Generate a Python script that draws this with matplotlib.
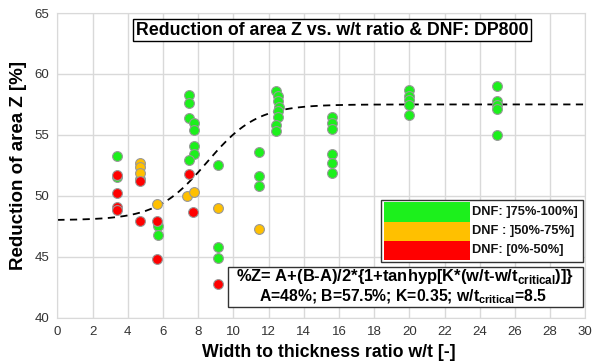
import numpy as np
import matplotlib
matplotlib.use("Agg")
import matplotlib.pyplot as plt
from matplotlib.patches import Rectangle

plt.rcParams['font.family'] = ['Liberation Sans', 'DejaVu Sans']
plt.rcParams['mathtext.fontset'] = 'custom'
plt.rcParams['mathtext.bf'] = 'Liberation Sans:bold'
plt.rcParams['mathtext.rm'] = 'Liberation Sans'

# ---- data ----
green_x = [3.4, 3.4, 5.7, 5.7, 7.48, 7.48, 7.48, 7.77, 7.77, 7.77, 7.77, 7.48, 9.15, 9.15, 9.15,
           11.46, 11.46, 11.46,
           12.4, 12.55, 12.55, 12.6, 12.55, 12.55, 12.45, 12.45,
           15.63, 15.63, 15.63, 15.63, 15.63, 15.63,
           19.98, 19.98, 19.98, 19.98, 19.98,
           24.98, 24.98, 24.98, 24.98, 24.98, 4.68]
green_y = [53.3, 51.55, 47.5, 46.8, 58.3, 57.6, 56.4, 56.0, 55.4, 54.1, 53.4, 52.9, 52.5, 45.8, 44.9,
           53.6, 51.6, 50.8,
           58.6, 58.2, 57.8, 57.3, 57.0, 56.45, 55.8, 55.35,
           56.45, 56.0, 55.5, 53.4, 52.7, 51.85,
           58.7, 58.2, 57.9, 57.45, 56.6,
           59.0, 57.8, 57.45, 57.1, 55.0, 51.4]
orange_x = [4.68, 4.68, 4.68, 5.68, 7.39, 7.77, 9.15, 11.46]
orange_y = [52.7, 52.4, 51.9, 49.3, 50.0, 50.3, 49.0, 47.3]
red_x = [3.4, 3.4, 3.4, 3.4, 4.68, 4.68, 5.68, 5.68, 7.48, 7.73, 9.15]
red_y = [51.7, 50.2, 49.1, 48.85, 51.2, 47.9, 47.95, 44.8, 51.8, 48.7, 42.8]

A, B, K, wt_crit = 48.0, 57.5, 0.35, 8.5

legend_labels = ["DNF: ]75%-100%]", "DNF : ]50%-75%]", "DNF: [0%-50%]"]
colors = ["#1CF01C", "#FFC000", "#FF0000"]

fig = plt.figure(figsize=(5.92, 3.62), dpi=100)
ax = fig.add_axes([0.0968, 0.1224, 0.8919, 0.8416])

ax.set_xlim(0, 30)
ax.set_ylim(40, 65)
ax.set_xticks(np.arange(0, 31, 2))
ax.set_yticks(np.arange(40, 66, 5))
ax.grid(True, color="#D9D9D9", linewidth=1)
ax.set_axisbelow(True)
for s in ax.spines.values():
    s.set_color("#D9D9D9")
ax.tick_params(length=0, labelsize=9.5, labelcolor="#333333", pad=6)

xc = np.linspace(0, 30, 300)
zc = A + (B - A) / 2 * (1 + np.tanh(K * (xc - wt_crit)))
ax.plot(xc, zc, linestyle=(0, (4, 3)), color="black", linewidth=1.3, zorder=2)

mk = dict(marker="o", s=50, edgecolors="#999999", linewidths=0.8, zorder=3)
ax.scatter(green_x, green_y, c=colors[0], **mk)
ax.scatter(orange_x, orange_y, c=colors[1], **mk)
ax.scatter(red_x, red_y, c=colors[2], **mk)

ax.set_xlabel("Width to thickness ratio w/t [-]", fontsize=12.8, fontweight="bold", labelpad=3)
ax.set_ylabel("Reduction of area Z [%]", fontsize=13.5, fontweight="bold", labelpad=5)
ax.xaxis.set_label_coords(0.515, -0.085)

# title box
ax.text(0.52, 0.944, "Reduction of area Z vs. w/t ratio & DNF: DP800", transform=ax.transAxes,
        ha="center", va="center", fontsize=12.8, fontweight="bold", zorder=5,
        bbox=dict(boxstyle="square,pad=0.15", facecolor="white", edgecolor="black", linewidth=1))

# legend box (figure pixel coords -> axes)
def px2ax(px, py):
    return ((px - 57.3) / 528.0, (317.7 - py) / 304.7)

lx0, ly1 = px2ax(380.5, 200)
lx1, ly0 = px2ax(582.5, 262)
ax.add_patch(Rectangle((lx0, ly0), lx1 - lx0, ly1 - ly0, transform=ax.transAxes,
                       facecolor="white", edgecolor="#333333", linewidth=1, zorder=5))
px0, _ = px2ax(384, 0)
px1, _ = px2ax(470, 0)
rows = [(202, 221.5), (221.5, 240.5), (240.5, 260)]
for (t, b), col, lab in zip(rows, colors, legend_labels):
    _, yb = px2ax(0, b)
    _, yt = px2ax(0, t)
    ax.add_patch(Rectangle((px0, yb), px1 - px0, yt - yb, transform=ax.transAxes,
                           facecolor=col, edgecolor="none", zorder=6))
    tx, _ = px2ax(472, 0)
    ax.text(tx, (yb + yt) / 2, lab, transform=ax.transAxes, ha="left", va="center",
            fontsize=9.3, fontweight="bold", color="#111111", zorder=7)

# formula box
fx0, fy1 = px2ax(228, 267)
fx1, fy0 = px2ax(582.5, 307.5)
ax.add_patch(Rectangle((fx0, fy0), fx1 - fx0, fy1 - fy0, transform=ax.transAxes,
                       facecolor="white", edgecolor="#333333", linewidth=1, zorder=5))
cx = (fx0 + fx1) / 2
_, l1 = px2ax(0, 277)
_, l2 = px2ax(0, 297)
ax.text(cx, l1, r"%Z= A+(B-A)/2*{1+tanhyp[K*(w/t-w/t$_{\mathbf{critical}}$)]}", transform=ax.transAxes,
        ha="center", va="center", fontsize=11.9, fontweight="bold", zorder=7)
ax.text(cx - 0.004, l2, r"A=48%; B=57.5%; K=0.35; w/t$_{\mathbf{critical}}$=8.5", transform=ax.transAxes,
        ha="center", va="center", fontsize=11.3, fontweight="bold", zorder=7)

fig.savefig("out.png", dpi=100)
